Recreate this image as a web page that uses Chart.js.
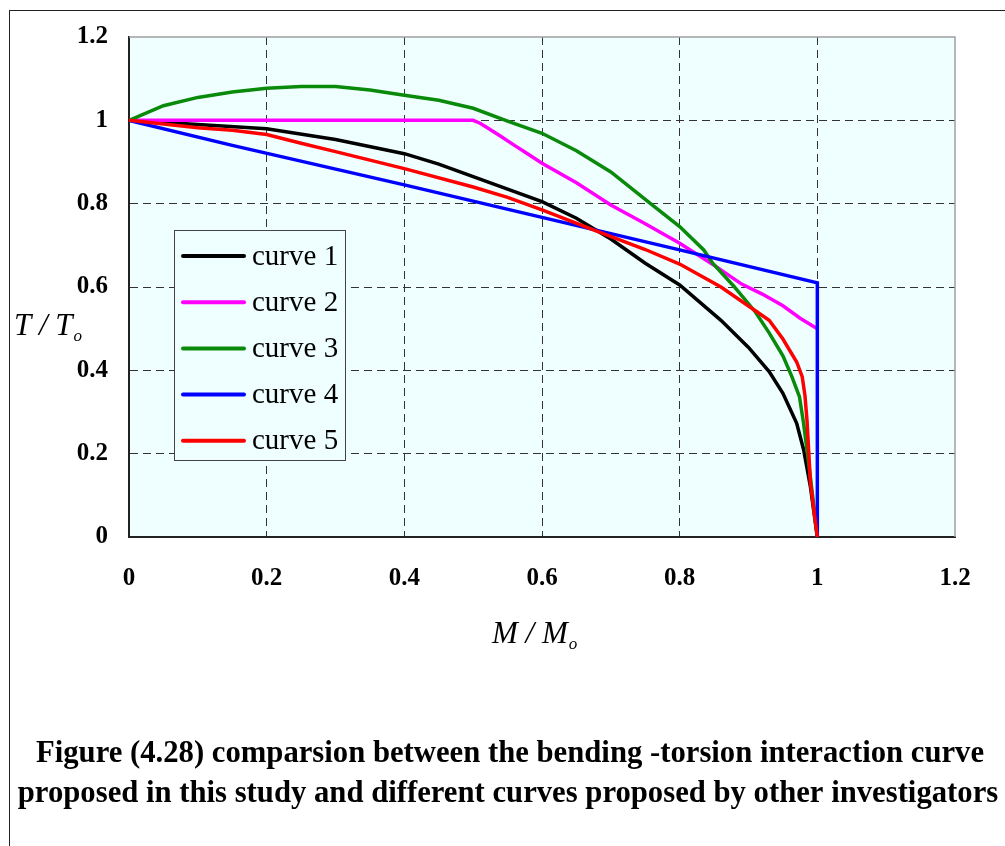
<!DOCTYPE html>
<html>
<head>
<meta charset="utf-8">
<script src="https://cdn.jsdelivr.net/npm/chart.js@4.4.0/dist/chart.umd.min.js"></script>
<style>
  html, body { margin: 0; padding: 0; background: #fff; }
  #wrap { position: relative; width: 1005px; height: 846px; overflow: hidden; }
  #frame { position: absolute; left: 9px; top: 10px; right: -2px; bottom: -2px;
           border-left: 1px solid #222; border-top: 1px solid #222; }
  #interactionChart { position: absolute; left: 0; top: 0; }
</style>
</head>
<body>
<div id="wrap">
  <div id="frame"></div>
  <canvas id="interactionChart" width="1005" height="846"></canvas>
</div>
<script>
// M/Mo values (x) and T/To values (y) for each interaction curve
const curve1M = [0, 0.1, 0.2, 0.3, 0.4, 0.45, 0.5, 0.55, 0.6, 0.65, 0.7, 0.75, 0.8, 0.86, 0.9, 0.93, 0.95, 0.97, 0.98, 0.99, 1];
const curve1T = [1, 0.99, 0.98, 0.954, 0.92, 0.895, 0.865, 0.835, 0.805, 0.765, 0.715, 0.657, 0.605, 0.52, 0.455, 0.397, 0.345, 0.273, 0.21, 0.12, 0];

const curve2M = [0, 0.5, 0.51, 0.52, 0.54, 0.56, 0.575, 0.6, 0.65, 0.7, 0.75, 0.8, 0.85, 0.89, 0.92, 0.95, 0.975, 1];
const curve2T = [1, 1, 0.993, 0.983, 0.962, 0.94, 0.924, 0.897, 0.85, 0.797, 0.752, 0.705, 0.652, 0.607, 0.583, 0.555, 0.525, 0.5];

const curve3M = [0, 0.05, 0.1, 0.15, 0.2, 0.25, 0.3, 0.35, 0.4, 0.45, 0.5, 0.55, 0.6, 0.65, 0.7, 0.76, 0.8, 0.835, 0.848, 0.878, 0.91, 0.93, 0.95, 0.963, 0.974, 0.98, 0.985, 0.991, 1];
const curve3T = [1, 1.035, 1.055, 1.068, 1.077, 1.081, 1.081, 1.073, 1.06, 1.048, 1.029, 0.998, 0.969, 0.927, 0.876, 0.797, 0.745, 0.689, 0.657, 0.603, 0.54, 0.49, 0.435, 0.385, 0.337, 0.273, 0.209, 0.129, 0];

const curve4M = [0, 0.15, 0.4, 0.6, 0.8, 1, 1];
const curve4T = [1, 0.94, 0.845, 0.767, 0.689, 0.61, 0];

const curve5M = [0, 0.1, 0.15, 0.2, 0.25, 0.3, 0.4, 0.5, 0.55, 0.6, 0.67, 0.75, 0.8, 0.86, 0.91, 0.93, 0.95, 0.97, 0.978, 0.982, 0.985, 0.99, 1];
const curve5T = [1, 0.982, 0.976, 0.966, 0.945, 0.925, 0.884, 0.84, 0.815, 0.785, 0.74, 0.69, 0.655, 0.6, 0.543, 0.52, 0.475, 0.42, 0.385, 0.34, 0.28, 0.13, 0];

const seriesNames = ['curve 1', 'curve 2', 'curve 3', 'curve 4', 'curve 5'];
const seriesColors = ['#000000', '#ff00ff', '#0a8a0a', '#0000ff', '#ff0000'];

const xTickValues = [0, 0.2, 0.4, 0.6, 0.8, 1, 1.2];
const xTickLabels = ['0', '0.2', '0.4', '0.6', '0.8', '1', '1.2'];
const yTickValues = [0, 0.2, 0.4, 0.6, 0.8, 1, 1.2];
const yTickLabels = ['0', '0.2', '0.4', '0.6', '0.8', '1', '1.2'];

const captionLines = [
    'Figure (4.28) comparsion between the bending -torsion interaction curve',
    'proposed in this study and different curves proposed by other investigators'
];

const plotFill = '#efffff';
const serif = '"Liberation Serif", "Times New Roman", serif';

const toPoints = (ms, ts) => ms.map((m, i) => ({ x: m, y: ts[i] }));
const curveData = [
    toPoints(curve1M, curve1T),
    toPoints(curve2M, curve2T),
    toPoints(curve3M, curve3T),
    toPoints(curve4M, curve4T),
    toPoints(curve5M, curve5T)
];

const datasets = curveData.map((pts, i) => ({
    label: seriesNames[i],
    data: pts,
    borderColor: seriesColors[i],
    backgroundColor: seriesColors[i],
    borderWidth: 3.5,
    showLine: true,
    pointRadius: 0,
    tension: 0,
    order: seriesNames.length - i  // later curves sit on top
}));

// draws "A / A" with a small subscript o
function drawRatio(ctx, letter, x, baseline, size) {
    ctx.font = 'italic ' + size + 'px ' + serif;
    ctx.textAlign = 'left';
    ctx.textBaseline = 'alphabetic';
    const main = letter + ' / ' + letter;
    ctx.fillText(main, x, baseline);
    const w = ctx.measureText(main).width;
    ctx.font = 'italic ' + Math.round(size * 0.55) + 'px ' + serif;
    ctx.fillText('o', x + w + 1, baseline + 6);
}

const figureDecor = {
    id: 'figureDecor',
    beforeDraw(chart) {
        const { ctx, chartArea: a } = chart;
        ctx.save();
        ctx.fillStyle = plotFill;
        ctx.fillRect(a.left, a.top, a.right - a.left, a.bottom - a.top);
        ctx.restore();
    },
    afterDraw(chart) {
        const { ctx, chartArea: a } = chart;
        ctx.save();

        // grey top and right edges of the plot area
        ctx.strokeStyle = '#a0a0a0';
        ctx.lineWidth = 1.5;
        ctx.beginPath();
        ctx.moveTo(a.left, a.top);
        ctx.lineTo(a.right, a.top);
        ctx.lineTo(a.right, a.bottom);
        ctx.stroke();

        // legend box
        const lx = 174, ly = 230, lw = 171, lh = 230;
        ctx.fillStyle = plotFill;
        ctx.fillRect(lx, ly, lw, lh);
        ctx.strokeStyle = '#444';
        ctx.lineWidth = 1;
        ctx.strokeRect(lx + 0.5, ly + 0.5, lw, lh);
        ctx.font = '29px ' + serif;
        ctx.textBaseline = 'middle';
        ctx.textAlign = 'left';
        chart.data.datasets.forEach((ds, i) => {
            const cy = ly + 26 + i * 46.2;
            ctx.strokeStyle = ds.borderColor;
            ctx.lineWidth = 4;
            ctx.lineCap = 'round';
            ctx.beginPath();
            ctx.moveTo(183, cy);
            ctx.lineTo(244, cy);
            ctx.stroke();
            ctx.fillStyle = '#000';
            ctx.fillText(ds.label, 252, cy + 1);
        });

        // axis titles
        ctx.fillStyle = '#000';
        drawRatio(ctx, 'T', 14, 335, 31);
        drawRatio(ctx, 'M', 492, 643, 31);

        // caption under the chart
        ctx.font = 'bold 30.7px ' + serif;
        ctx.textAlign = 'center';
        ctx.textBaseline = 'alphabetic';
        ctx.fillText(captionLines[0], 510, 762);
        ctx.fillText(captionLines[1], 508, 802);

        ctx.restore();
    }
};

const gridColor = (ctx) => {
    const v = ctx.tick ? ctx.tick.value : null;
    return (v === 0 || v === 1.2) ? 'rgba(0,0,0,0)' : '#333';
};

new Chart(document.getElementById('interactionChart'), {
    type: 'scatter',
    data: { datasets },
    options: {
        responsive: false,
        animation: false,
        layout: { padding: { left: 0, top: 37, right: 50, bottom: 249 } },
        plugins: {
            legend: { display: false },
            tooltip: { enabled: false },
            title: { display: false }
        },
        scales: {
            x: {
                type: 'linear',
                min: 0,
                max: 1.2,
                afterBuildTicks: (scale) => { scale.ticks = xTickValues.map(v => ({ value: v })); },
                afterFit: (scale) => { scale.height = 60; },
                grid: { color: gridColor, lineWidth: 1, drawTicks: false },
                border: { display: true, color: '#222', width: 2, dash: [8, 5] },
                ticks: {
                    padding: 27,
                    color: '#000',
                    font: { family: serif, size: 25, weight: 'bold' },
                    callback: (v, i) => xTickLabels[i]
                }
            },
            y: {
                type: 'linear',
                min: 0,
                max: 1.2,
                afterBuildTicks: (scale) => { scale.ticks = yTickValues.map(v => ({ value: v })); },
                afterFit: (scale) => { scale.width = 129; },
                grid: { color: gridColor, lineWidth: 1, drawTicks: false },
                border: { display: true, color: '#222', width: 2, dash: [8, 5] },
                ticks: {
                    padding: 21,
                    color: '#000',
                    font: { family: serif, size: 25, weight: 'bold' },
                    callback: (v, i) => yTickLabels[i]
                }
            }
        }
    },
    plugins: [figureDecor]
});
</script>
</body>
</html>
